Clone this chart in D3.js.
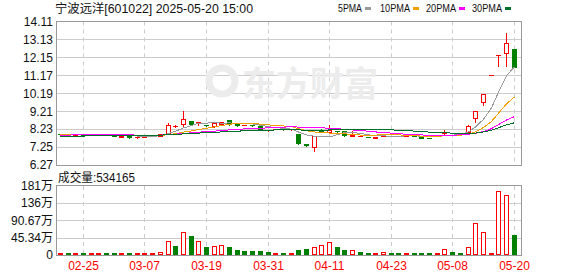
<!DOCTYPE html>
<html>
<head>
<meta charset="utf-8">
<script src="https://cdn.jsdelivr.net/npm/d3@7"></script>
<style>
  body { margin: 0; background: #fff; }
  svg { display: block; }
  text { font-family: "Liberation Sans", Arial, "Noto Sans CJK SC", sans-serif; }
</style>
</head>
<body>
<svg id="chart" width="578" height="276"></svg>
<script>
// trading days shown on the chart
const dates = ['02-20','02-21','02-24','02-25','02-26','02-27','02-28',
  '03-03','03-04','03-05','03-06','03-07','03-10','03-11','03-12','03-13','03-14',
  '03-17','03-18','03-19','03-20','03-21','03-24','03-25','03-26','03-27','03-28','03-31',
  '04-01','04-02','04-03','04-07','04-08','04-09','04-10','04-11','04-14','04-15','04-16',
  '04-17','04-18','04-21','04-22','04-23','04-24','04-25','04-28','04-29','04-30',
  '05-06','05-07','05-08','05-09','05-12','05-13','05-14','05-15','05-16','05-19','05-20'];

const opens = [7.97,7.96,7.92,7.94,7.90,7.92,7.97,7.90,7.82,7.85,7.78,7.82,7.86,7.88,8.00,8.40,8.50,
  8.68,8.60,8.47,8.39,8.50,8.74,8.49,8.45,8.44,8.39,8.18,8.24,8.24,8.22,7.97,7.40,7.28,8.14,8.08,
  8.13,8.11,7.88,7.85,7.82,7.76,7.86,7.88,7.86,7.86,7.88,7.85,7.77,7.87,8.02,8.03,8.03,8.10,8.83,
  9.70,11.17,12.29,12.37,12.60];
const highs = [7.99,7.98,7.96,7.95,7.94,7.97,7.98,7.92,7.87,7.86,7.84,7.88,7.90,7.97,8.63,8.50,9.26,
  8.75,8.69,8.52,8.68,8.68,8.76,8.56,8.48,8.50,8.40,8.22,8.27,8.26,8.26,7.97,7.48,7.88,8.28,8.53,
  8.16,8.13,8.17,7.88,7.84,7.84,7.90,7.90,7.88,7.89,7.89,7.87,7.80,7.90,8.25,8.08,8.06,8.52,9.23,
  10.15,11.17,12.29,13.52,12.62];
const lows = [7.93,7.90,7.90,7.88,7.89,7.90,7.92,7.83,7.80,7.77,7.76,7.80,7.84,7.87,7.98,8.32,8.41,
  8.45,8.48,8.42,8.36,8.47,8.48,8.42,8.43,8.38,8.24,8.15,8.22,8.20,8.20,7.44,7.30,7.02,8.07,8.06,
  8.09,7.88,7.86,7.83,7.79,7.74,7.84,7.84,7.83,7.84,7.84,7.75,7.74,7.85,7.93,8.00,8.00,8.08,8.64,
  9.55,11.17,11.69,11.69,11.60];
const closes = [7.95,7.92,7.94,7.90,7.92,7.95,7.94,7.84,7.85,7.81,7.82,7.86,7.88,7.95,8.45,8.42,8.77,
  8.53,8.62,8.46,8.56,8.61,8.59,8.48,8.46,8.43,8.25,8.19,8.25,8.22,8.24,7.46,7.38,7.88,8.12,8.16,
  8.12,7.90,7.92,7.86,7.81,7.82,7.88,7.86,7.85,7.88,7.86,7.77,7.76,7.89,8.05,8.04,8.02,8.39,9.23,
  10.15,11.17,12.29,12.93,11.64];
// volume in 万
const volumes = [3.5,5.2,5.2,5.2,3.5,5.2,5.2,3.5,2.6,2.6,5.2,5.2,2.6,7.8,38,23.5,60,49.6,36.5,21,
  22.6,25,21,13,10.4,10.4,10.4,7.8,5.2,5.2,5.2,13,15.7,21,25,34,21,13,12,7.8,5.2,5.2,7,5.2,5.2,
  2.6,2.6,5.2,2.6,5.2,14.8,7.8,5.2,20,85,60,5.2,167,157,53.4165];
// closes of the 29 sessions before the first one shown (feed the moving averages)
const priorCloses = [7.62,7.60,7.64,7.63,7.66,7.65,7.68,7.70,7.72,7.75,
  7.80,7.84,7.86,7.88,7.90,7.89,7.87,7.90,7.92,7.90,
  7.91,7.93,7.90,7.92,7.94,7.93,7.91,7.92,7.94];

const priceTicks = [6.27,7.25,8.23,9.21,10.19,11.17,12.15,13.13,14.11];
const volTicks = [0,45.34,90.67,136,181];
const xTickLabels = ['02-25','03-07','03-19','03-31','04-11','04-23','05-08','05-20'];
const maPeriods = [5,10,20,30];
const maColors = ['#999999','#f0a000','#ff00ff','#006f2c'];

const red = '#ff0000', green = '#008000';
const left = 56, right = 522;
const pTop = 21.5, pBottom = 165, vTop = 186, vBottom = 255;

const svg = d3.select('#chart');

const x = d3.scaleBand().domain(dates).range([56, 517.5]).padding(0);
const cx = d => Math.round(x(d) + x.bandwidth() / 2) + 0.5;
const y = d3.scaleLinear().domain([6.27, 14.11]).range([pBottom, pTop]);
const yv = d3.scaleLinear().domain([0, 181]).range([vBottom, vTop]);
const snap = v => Math.round(v) + 0.5;

const data = dates.map((d, i) => ({
  date: d, o: opens[i], h: highs[i], l: lows[i], c: closes[i], v: volumes[i],
  pc: i > 0 ? closes[i - 1] : priorCloses[priorCloses.length - 1]
}));

// horizontal grid
const grid = svg.append('g');
grid.selectAll('.hp').data(priceTicks.slice(1, -1)).enter().append('line')
  .attr('x1', left).attr('x2', right)
  .attr('y1', d => snap(y(d))).attr('y2', d => snap(y(d)))
  .attr('stroke', '#cccccc');
grid.selectAll('.hv').data(volTicks.slice(1, -1)).enter().append('line')
  .attr('x1', left).attr('x2', right)
  .attr('y1', d => snap(yv(d))).attr('y2', d => snap(yv(d)))
  .attr('stroke', '#cccccc');

// vertical dashed grid
[[pTop, pBottom], [vTop, vBottom]].forEach(([a, b]) => {
  grid.selectAll(null).data(xTickLabels).enter().append('line')
    .attr('x1', d => cx(d)).attr('x2', d => cx(d))
    .attr('y1', a).attr('y2', b)
    .attr('stroke', '#cccccc').attr('stroke-dasharray', '4,4');
});

// watermark
svg.append('text').attr('x', 242).attr('y', 96)
  .attr('font-size', 34).attr('font-weight', 'bold')
  .attr('font-family', '"Noto Sans CJK SC", sans-serif')
  .attr('fill', '#ececec').text('东方财富');
svg.append('circle').attr('cx', 222).attr('cy', 81).attr('r', 13)
  .attr('fill', 'none').attr('stroke', '#ececec').attr('stroke-width', 7);

// candles
const candles = svg.append('g').attr('shape-rendering', 'crispEdges');
data.forEach(d => {
  const xc = cx(d.date);
  const up = d.c > d.o, down = d.c < d.o;
  const col = up ? red : down ? green : (d.c >= d.pc ? red : green);
  const top = snap(y(Math.max(d.o, d.c)));
  const bot = snap(y(Math.min(d.o, d.c)));
  const hi = snap(y(d.h)), lo = snap(y(d.l));
  if (up) {
    if (hi < top) candles.append('line').attr('x1', xc).attr('x2', xc).attr('y1', hi).attr('y2', top).attr('stroke', col);
    if (lo > bot) candles.append('line').attr('x1', xc).attr('x2', xc).attr('y1', bot).attr('y2', lo).attr('stroke', col);
  } else {
    candles.append('line').attr('x1', xc).attr('x2', xc).attr('y1', hi).attr('y2', Math.max(lo, hi + 0.01)).attr('stroke', col);
  }
  if (bot - top < 1) {
    candles.append('line').attr('x1', xc - 2.5).attr('x2', xc + 2.5)
      .attr('y1', top).attr('y2', top).attr('stroke', col);
  } else {
    candles.append('rect').attr('x', xc - 2).attr('y', top)
      .attr('width', 4).attr('height', bot - top)
      .attr('fill', up ? '#fff' : col).attr('stroke', col);
  }
});

// moving averages
const allCloses = priorCloses.concat(closes);
const off = priorCloses.length;
const maLine = d3.line().x(d => cx(d.date)).y(d => y(d.ma));
maPeriods.forEach((p, k) => {
  const pts = data.map((d, i) => ({
    date: d.date,
    ma: d3.mean(allCloses.slice(off + i - p + 1, off + i + 1))
  }));
  svg.append('path').datum(pts)
    .attr('d', maLine)
    .attr('fill', 'none')
    .attr('stroke', maColors[k])
    .attr('stroke-width', 1)
    .attr('shape-rendering', 'crispEdges');
});

// volume bars
const vol = svg.append('g').attr('shape-rendering', 'crispEdges');
vol.selectAll('rect').data(data).enter().append('rect')
  .attr('x', d => cx(d.date) - 2)
  .attr('y', d => Math.min(snap(yv(d.v)), vBottom - 1.5))
  .attr('width', 4)
  .attr('height', d => Math.max(vBottom - 0.5 - Math.min(snap(yv(d.v)), vBottom - 1.5), 1))
  .attr('fill', d => d.c >= d.pc ? '#fff' : green)
  .attr('stroke', d => d.c >= d.pc ? red : green);

// frames
const frame = svg.append('g').attr('fill', 'none').attr('stroke', '#999999')
  .attr('shape-rendering', 'crispEdges');
frame.append('rect').attr('x', left + 0.5).attr('y', pTop).attr('width', right - left - 1).attr('height', pBottom - pTop);
frame.append('rect').attr('x', left + 0.5).attr('y', vTop - 0.5).attr('width', right - left - 1).attr('height', vBottom - vTop + 0.5);

// axis labels
svg.append('g').selectAll('text').data(priceTicks).enter().append('text')
  .attr('x', 53).attr('y', d => y(d)).attr('dy', '0.36em')
  .attr('text-anchor', 'end').attr('font-size', 12).attr('fill', '#111')
  .text(d => d.toFixed(2));
svg.append('g').selectAll('text').data(volTicks).enter().append('text')
  .attr('x', 53).attr('y', d => yv(d)).attr('dy', '0.36em')
  .attr('text-anchor', 'end').attr('font-size', 12).attr('fill', '#111')
  .text(d => d === 0 ? '0' : d + '万');
svg.append('g').selectAll('text').data(xTickLabels).enter().append('text')
  .attr('x', d => cx(d)).attr('y', 270)
  .attr('text-anchor', 'middle').attr('font-size', 12).attr('fill', red)
  .text(d => d);

// title & legend
svg.append('text').attr('x', 55).attr('y', 13).attr('font-size', 12).attr('fill', '#111')
  .attr('textLength', 198).attr('lengthAdjust', 'spacingAndGlyphs')
  .text('宁波远洋[601022] 2025-05-20 15:00');
const legendX = [338, 380, 426, 472];
maPeriods.forEach((p, k) => {
  const lbl = p + 'PMA';
  svg.append('text').attr('x', legendX[k]).attr('y', 12).attr('font-size', 11)
    .attr('font-family', '"Liberation Serif", serif').attr('fill', '#111')
    .attr('textLength', lbl.length * 6).attr('lengthAdjust', 'spacingAndGlyphs')
    .text(lbl);
  svg.append('rect').attr('x', legendX[k] + lbl.length * 6 + 3).attr('y', 7)
    .attr('width', 6).attr('height', 3).attr('fill', maColors[k]);
});
svg.append('text').attr('x', 58).attr('y', 182).attr('font-size', 12).attr('fill', '#111')
  .attr('textLength', 77).attr('lengthAdjust', 'spacingAndGlyphs')
  .text('成交量:' + Math.round(volumes[volumes.length - 1] * 10000));
</script>
</body>
</html>
